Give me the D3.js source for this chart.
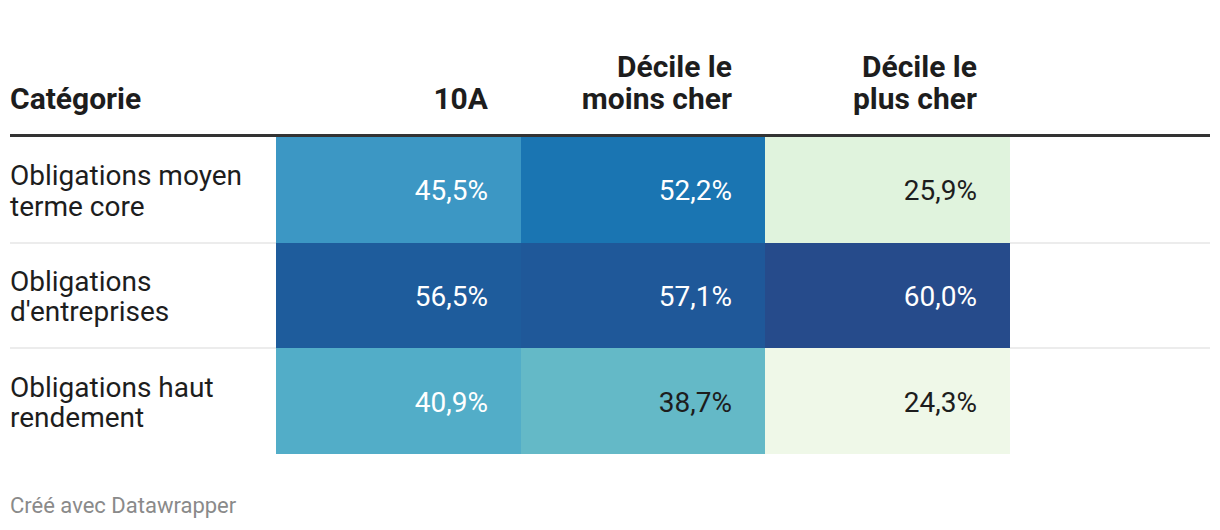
<!DOCTYPE html>
<html><head><meta charset="utf-8">
<script src="https://cdn.jsdelivr.net/npm/d3@7"></script>
<style>
body{margin:0;background:#fff;}
svg text{font-family:Roboto,"Noto Sans",sans-serif;}
</style></head>
<body>
<svg id="chart" width="1220" height="530"></svg>
<script>
const headerLabel = "Catégorie";
const columns = [["10A"], ["Décile le", "moins cher"], ["Décile le", "plus cher"]];
const categories = [["Obligations moyen", "terme core"], ["Obligations", "d'entreprises"], ["Obligations haut", "rendement"]];
const values10A = [45.5, 56.5, 40.9];
const valuesCheap = [52.2, 57.1, 38.7];
const valuesExpensive = [25.9, 60.0, 24.3];
const footer = "Créé avec Datawrapper";

(function () {
const series = [values10A, valuesCheap, valuesExpensive];
const svg = d3.select("#chart");
const left = 10, right = 1210;
const headLineY = 135.5;
const tableTop = 137, rowH = 105.7;

const x = d3.scaleBand().domain(d3.range(columns.length)).range([276, 1010]);
const y = d3.scaleBand().domain(d3.range(categories.length)).range([tableTop, tableTop + rowH * categories.length]);
const x0 = j => Math.round(x(j)), x1 = j => Math.round(x(j) + x.bandwidth());
const y0 = i => Math.round(y(i)), y1 = i => Math.round(y(i) + y.bandwidth());

const color = d3.scaleLinear()
  .domain([24.3, 25.9, 38.7, 40.9, 45.5, 52.2, 56.5, 57.1, 60.0])
  .range(["#eff8e8", "#e0f3dd", "#64b9c7", "#52adc8", "#3c97c4", "#1a75b2", "#1e5c9c", "#1f5899", "#264b8b"])
  .interpolate(d3.interpolateRgb);

const fmt = v => d3.format(".1f")(v).replace(".", ",") + "%";

categories.forEach((c, i) => {
  if (i > 0) {
    svg.append("rect").attr("x", left).attr("y", y0(i) - 1).attr("width", right - left).attr("height", 2).attr("fill", "#ececec");
  }
});

series.forEach((vals, j) => {
  vals.forEach((v, i) => {
    const c = color(v);
    svg.append("rect").attr("x", x0(j)).attr("y", y0(i)).attr("width", x1(j) - x0(j)).attr("height", y1(i) - y0(i))
      .attr("fill", c).attr("shape-rendering", "crispEdges");
    const light = d3.lab(c).l > 68;
    svg.append("text").attr("x", x1(j) - 33).attr("y", y(i) + y.bandwidth() / 2 + 10.5)
      .attr("text-anchor", "end").attr("font-size", 28).attr("fill", light ? "#1d1d1d" : "#ffffff").text(fmt(v));
  });
});

categories.forEach((lines, i) => {
  const lh = 30.5;
  const cy = y(i) + y.bandwidth() / 2;
  lines.forEach((t, k) => {
    svg.append("text").attr("x", left).attr("y", cy - (lines.length - 1) * lh / 2 + k * lh + 10.5)
      .attr("font-size", 28).attr("fill", "#1d1d1d").text(t);
  });
});

svg.append("text").attr("x", left).attr("y", 109).attr("font-size", 30).attr("font-weight", "bold").attr("fill", "#1d1d1d").text(headerLabel);
columns.forEach((lines, j) => {
  lines.forEach((t, k) => {
    svg.append("text").attr("x", x1(j) - 33).attr("y", 109 - (lines.length - 1 - k) * 32)
      .attr("text-anchor", "end").attr("font-size", 30).attr("font-weight", "bold").attr("fill", "#1d1d1d").text(t);
  });
});

svg.append("rect").attr("x", left).attr("y", headLineY - 1.5).attr("width", right - left).attr("height", 3).attr("fill", "#333333");

svg.append("text").attr("x", left).attr("y", 513).attr("font-size", 22).attr("fill", "#8a8a8a").text(footer);
})();
</script>
</body></html>
